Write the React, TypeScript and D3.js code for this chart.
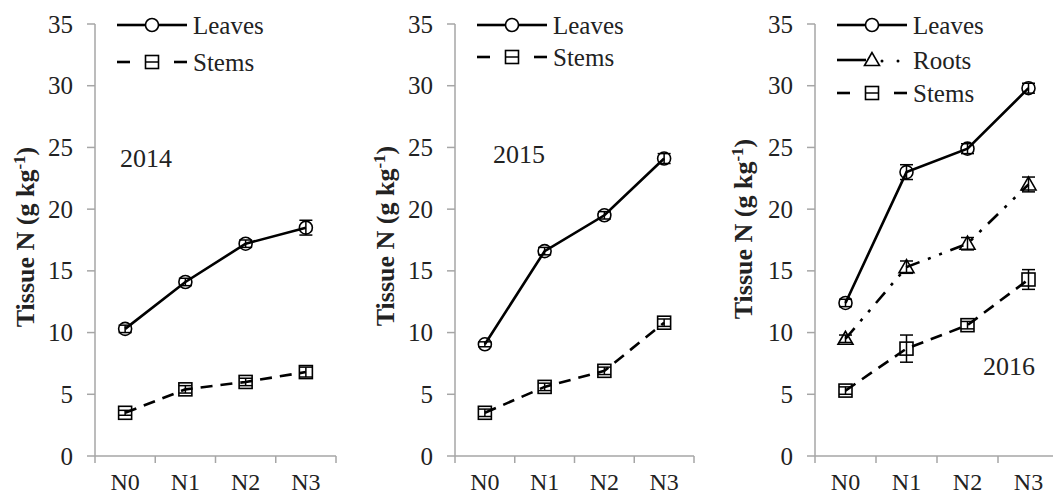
import React from 'react';
import * as d3 from 'd3';

const categories = ['N0', 'N1', 'N2', 'N3'];
const yTicks = [0, 5, 10, 15, 20, 25, 30, 35];
const years = ['2014', '2015', '2016'];

const leaves2014 = [10.3, 14.1, 17.2, 18.5];
const leavesErr2014 = [0.3, 0.3, 0.3, 0.6];
const stems2014 = [3.5, 5.4, 6.0, 6.8];
const stemsErr2014 = [0.2, 0.3, 0.3, 0.4];

const leaves2015 = [9.05, 16.6, 19.5, 24.1];
const leavesErr2015 = [0.2, 0.3, 0.3, 0.4];
const stems2015 = [3.5, 5.6, 6.9, 10.8];
const stemsErr2015 = [0.3, 0.3, 0.3, 0.3];

const leaves2016 = [12.4, 23.0, 24.9, 29.8];
const leavesErr2016 = [0.3, 0.6, 0.4, 0.4];
const roots2016 = [9.5, 15.3, 17.2, 22.0];
const rootsErr2016 = [0.3, 0.5, 0.5, 0.6];
const stems2016 = [5.3, 8.7, 10.6, 14.3];
const stemsErr2016 = [0.3, 1.1, 0.3, 0.8];

const FONT = "'Liberation Serif', 'DejaVu Serif', 'Times New Roman', serif";
const AXIS = '#a6a6a6';
const TEXT = '#222';

const styles: any = {
  Leaves: { marker: 'circle', dash: null },
  Roots: { marker: 'triangle', dash: '14 9 3 9 3 9' },
  Stems: { marker: 'square', dash: '12 8' },
};

const panels = [
  {
    year: years[0], axisX: 95, axisEnd: 336, titleX: 25, titleY: 237,
    yearX: 120, yearY: 167,
    series: [
      { name: 'Leaves', values: leaves2014, err: leavesErr2014, ly: 25 },
      { name: 'Stems', values: stems2014, err: stemsErr2014, ly: 62 },
    ],
  },
  {
    year: years[1], axisX: 455, axisEnd: 694, titleX: 385, titleY: 236,
    yearX: 493, yearY: 163,
    series: [
      { name: 'Leaves', values: leaves2015, err: leavesErr2015, ly: 25 },
      { name: 'Stems', values: stems2015, err: stemsErr2015, ly: 57 },
    ],
  },
  {
    year: years[2], axisX: 815, axisEnd: 1059, titleX: 743, titleY: 229,
    yearX: 983, yearY: 375,
    series: [
      { name: 'Leaves', values: leaves2016, err: leavesErr2016, ly: 25 },
      { name: 'Roots', values: roots2016, err: rootsErr2016, ly: 60 },
      { name: 'Stems', values: stems2016, err: stemsErr2016, ly: 93 },
    ],
  },
];

function Marker({ type, x, y }: { type: string; x: number; y: number }) {
  const s = 6.5;
  if (type === 'circle') {
    return <circle cx={x} cy={y} r={s} fill="none" stroke="#000" strokeWidth={1.6} />;
  }
  if (type === 'square') {
    return <rect x={x - s} y={y - s} width={s * 2} height={s * 2} fill="none" stroke="#000" strokeWidth={1.6} />;
  }
  const p = `${x},${y - s - 1} ${x - s - 1},${y + s - 1} ${x + s + 1},${y + s - 1}`;
  return <polygon points={p} fill="none" stroke="#000" strokeWidth={1.6} />;
}

function Panel({ p }: { p: any }) {
  const y = d3.scaleLinear().domain([0, 35]).range([456, 24]);
  const x = d3.scaleBand().domain(categories).range([p.axisX, p.axisEnd]).padding(0);
  const cx = (c: string) => (x(c) as number) + x.bandwidth() / 2;
  const edges = categories.map((c) => x(c) as number).concat([p.axisEnd]);
  const line = d3.line<number>().x((d, i) => cx(categories[i])).y((d) => y(d));

  return (
    <g>
      {/* axes */}
      <line x1={p.axisX} x2={p.axisX} y1={y(35)} y2={y(0)} stroke={AXIS} strokeWidth={1.5} />
      <line x1={p.axisX} x2={p.axisEnd} y1={y(0)} y2={y(0)} stroke={AXIS} strokeWidth={1.5} />
      {yTicks.map((t) => (
        <g key={t}>
          <line x1={p.axisX - 8} x2={p.axisX} y1={y(t)} y2={y(t)} stroke={AXIS} strokeWidth={1.5} />
          <text x={p.axisX - 22} y={y(t)} dy="0.34em" textAnchor="end" fontSize={25} style={{ fontFamily: FONT }} fill={TEXT}>
            {t}
          </text>
        </g>
      ))}
      {edges.map((e, i) => (
        <line key={i} x1={e} x2={e} y1={y(0)} y2={y(0) + 7} stroke={AXIS} strokeWidth={1.5} />
      ))}
      {categories.map((c) => (
        <text key={c} x={cx(c)} y={490} textAnchor="middle" fontSize={24} style={{ fontFamily: FONT }} fill={TEXT}>
          {c}
        </text>
      ))}
      <text
        transform={`translate(${p.titleX},${p.titleY}) rotate(-90)`}
        textAnchor="middle"
        dy="0.35em"
        fontSize={26}
        fontWeight="bold"
        style={{ fontFamily: FONT }}
        fill={TEXT}
      >
        Tissue N (g kg<tspan dy={-9} fontSize={17}>-1</tspan>
        <tspan dy={9}>)</tspan>
      </text>
      <text x={p.yearX} y={p.yearY} fontSize={26} style={{ fontFamily: FONT }} fill={TEXT}>
        {p.year}
      </text>

      {/* series */}
      {p.series.map((s: any) => {
        const st = styles[s.name];
        return (
          <g key={s.name}>
            <path d={line(s.values) || ''} fill="none" stroke="#000" strokeWidth={2.6} strokeDasharray={st.dash || undefined} />
            {s.values.map((v: number, i: number) => {
              const px = cx(categories[i]);
              const e = s.err[i];
              return (
                <g key={i}>
                  <line x1={px} x2={px} y1={y(v + e)} y2={y(v - e)} stroke="#000" strokeWidth={1.5} />
                  <line x1={px - 6.5} x2={px + 6.5} y1={y(v + e)} y2={y(v + e)} stroke="#000" strokeWidth={1.5} />
                  <line x1={px - 6.5} x2={px + 6.5} y1={y(v - e)} y2={y(v - e)} stroke="#000" strokeWidth={1.5} />
                  <Marker type={st.marker} x={px} y={y(v)} />
                </g>
              );
            })}
          </g>
        );
      })}

      {/* legend */}
      {p.series.map((s: any) => {
        const st = styles[s.name];
        const x0 = p.axisX + 22;
        const mx = p.axisX + 57;
        const x1 = p.axisX + 92;
        return (
          <g key={'lg' + s.name}>
            {s.name === 'Stems' ? (
              <>
                <line x1={x0} x2={x0 + 13} y1={s.ly} y2={s.ly} stroke="#000" strokeWidth={2.6} />
                <line x1={x1 - 13} x2={x1} y1={s.ly} y2={s.ly} stroke="#000" strokeWidth={2.6} />
                <line x1={mx - 6} x2={mx + 6} y1={s.ly} y2={s.ly} stroke="#000" strokeWidth={1.5} />
              </>
            ) : s.name === 'Roots' ? (
              <>
                <line x1={x0} x2={mx - 6} y1={s.ly} y2={s.ly} stroke="#000" strokeWidth={2.6} />
                <circle cx={mx + 10} cy={s.ly + 1} r={1.5} fill="#000" />
                <circle cx={mx + 26} cy={s.ly + 1} r={1.5} fill="#000" />
              </>
            ) : (
              <>
                <line x1={x0} x2={mx - 6} y1={s.ly} y2={s.ly} stroke="#000" strokeWidth={2.6} />
                <line x1={mx + 6} x2={x1} y1={s.ly} y2={s.ly} stroke="#000" strokeWidth={2.6} />
              </>
            )}
            <Marker type={st.marker} x={mx} y={s.ly} />
            <text x={x1 + 6} y={s.ly} dy="0.34em" fontSize={25} style={{ fontFamily: FONT }} fill={TEXT}>
              {s.name}
            </text>
          </g>
        );
      })}
    </g>
  );
}

export default function App() {
  return (
    <svg
      width={1053}
      height={496}
      style={{ position: 'absolute', left: 0, top: 0, background: '#fff' }}
    >
      {panels.map((p) => (
        <Panel key={p.year} p={p} />
      ))}
    </svg>
  );
}
